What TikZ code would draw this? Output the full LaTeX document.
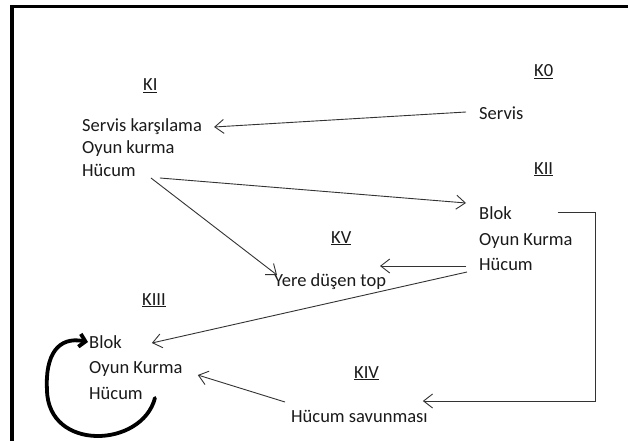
\documentclass[tikz,border=0pt]{standalone}
\usepackage{fontspec}
\setmainfont{Carlito}
\usetikzlibrary{arrows.meta,calc}
\definecolor{txt}{HTML}{1A1A1A}
\definecolor{lin}{HTML}{333333}
\begin{document}
\begin{tikzpicture}[x=1pt,y=-1pt,
  lbl/.style={anchor=base west,inner sep=0pt,font=\fontsize{18.5}{22}\selectfont,text=txt},
  conn/.style={draw=lin,line width=0.9pt,-{Straight Barb[length=9pt,width=14pt]}},
  loopconn/.style={draw=black,line width=3.8pt,line cap=round,-{Straight Barb[length=6pt,width=13pt]}},
  frame/.style={draw=black}]
\useasboundingbox (0,0) rectangle (628,441);
\fill[white] (0,0) rectangle (628,441);
\draw[frame,line width=3pt] (10,6.5) -- (628,6.5);
\draw[frame,line width=4pt] (12,5) -- (12,441);

% headings
\node[lbl] (hKI)   at (143,91)  {\underline{KI}};
\node[lbl] (hK0)   at (534,77)  {\underline{K0}};
\node[lbl] (hKII)  at (534,174) {\underline{KII}};
\node[lbl] (hKV)   at (331,243) {\underline{KV}};
\node[lbl] (hKIII) at (142,305) {\underline{KIII}};
\node[lbl] (hKIV)  at (354,378) {\underline{KIV}};

% KI
\node[lbl] (kars)  at (82,131) {Servis karşılama};
\node[lbl] (oyunA) at (82,153) {Oyun kurma};
\node[lbl] (hucA)  at (82,176) {Hücum};
% K0
\node[lbl] (servis) at (479,119) {Servis};
% KII
\node[lbl] (blokB) at (479,219) {Blok};
\node[lbl] (oyunB) at (479,245) {Oyun Kurma};
\node[lbl] (hucB)  at (479,270) {Hücum};
% KV
\node[lbl] (yere)  at (274,286) {Yere düşen top};
% KIII
\node[lbl] (blokC) at (89,348) {Blok};
\node[lbl] (oyunC) at (89,373) {Oyun Kurma};
\node[lbl] (hucC)  at (89,399) {Hücum};
% KIV
\node[lbl] (hucsav) at (291,422) {Hücum savunması};

% connectors
\draw[conn] ($(servis.base west)+(-13,-7)$) -- ($(kars.base east)+(12,-4)$);
\draw[conn] ($(hucA.base east)+(24,2)$) -- ($(blokB.base west)+(-13,-16)$);
\draw[conn] ($(hucA.base east)+(15,2)$) -- ($(yere.base west)+(3,-11)$);
\draw[conn] ($(hucB.base west)+(-13,-4)$) -- ($(hucB.base west)+(-99,-4)$);
\draw[conn] ($(hucB.base west)+(-12,2)$) -- ($(blokC.base east)+(30,-5)$);
\draw[conn,line join=miter] ($(blokB.base east)+(46,-7)$) -- ++(38,0) |- ($(hucsav.base east)+(-5,-21)$);
\draw[conn] ($(hucsav.base west)+(-6,-20)$) -- ($(oyunC.base east)+(15,2)$);

% self loop on KIII
\draw[loopconn] ($(hucC.base east)+(12,-1)$)
  .. controls (142,448) and (48,452) .. (47,390)
  .. controls (45,355) and (58,336) .. ($(blokC.base west)+(-1,-6)$);
\end{tikzpicture}
\end{document}
